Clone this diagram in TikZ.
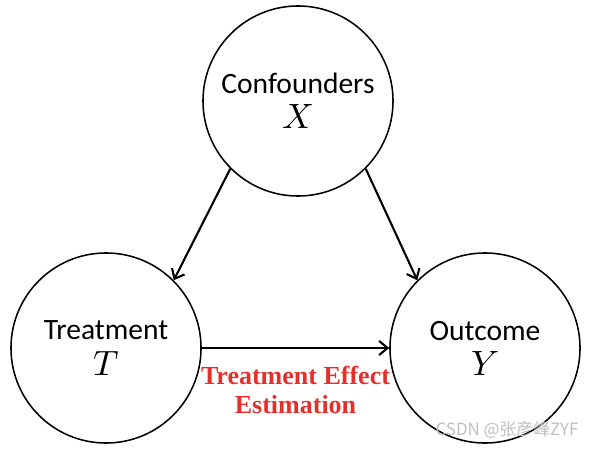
\documentclass[tikz,border=0pt]{standalone}
\usepackage{fontspec}
\usepackage{unicode-math}
\setmainfont{Carlito}
\newfontfamily\effectfont{Liberation Serif}
\newfontfamily\cjkfont{Noto Sans CJK SC}
\usetikzlibrary{arrows.meta}
\definecolor{effectred}{RGB}{228,48,42}
\newcommand{\varsym}[1]{{\fontsize{25}{25}\selectfont$#1$}}

\begin{document}
\begin{tikzpicture}[x=0.025cm, y=0.025cm,
  var/.style={circle, draw, line width=1.1pt, minimum size=4.75cm, inner sep=0pt,
    align=center, font=\fontsize{21}{25}\selectfont},
  edge/.style={-{Straight Barb[length=6pt,width=10pt]}, line width=1.5pt}]
  \useasboundingbox (0,0) rectangle (596,448);

  % Variables
  \node[var] (conf) at (298,347) {Confounders\\ \varsym{X}};
  \node[var] (treat) at (106,100) {Treatment\\ \varsym{T}};
  \node[var] (out) at (485,100) {Outcome\\ \varsym{Y}};

  % Causal edges
  \draw[edge] (conf.225) -- (treat.45);
  \draw[edge] (conf.-45) -- (out.135);
  \draw[edge] (treat) -- (out)
    node[midway, below=12pt, inner sep=0pt, align=center, text=effectred,
      font=\effectfont\bfseries\fontsize{18.5}{20.5}\selectfont] (effect)
    {Treatment Effect\\ Estimation};

  % Watermark
  \node[text=gray!50, font=\cjkfont\fontsize{12}{14}\selectfont] (wm) at (507,18) {CSDN @张彦峰ZYF};
\end{tikzpicture}
\end{document}
